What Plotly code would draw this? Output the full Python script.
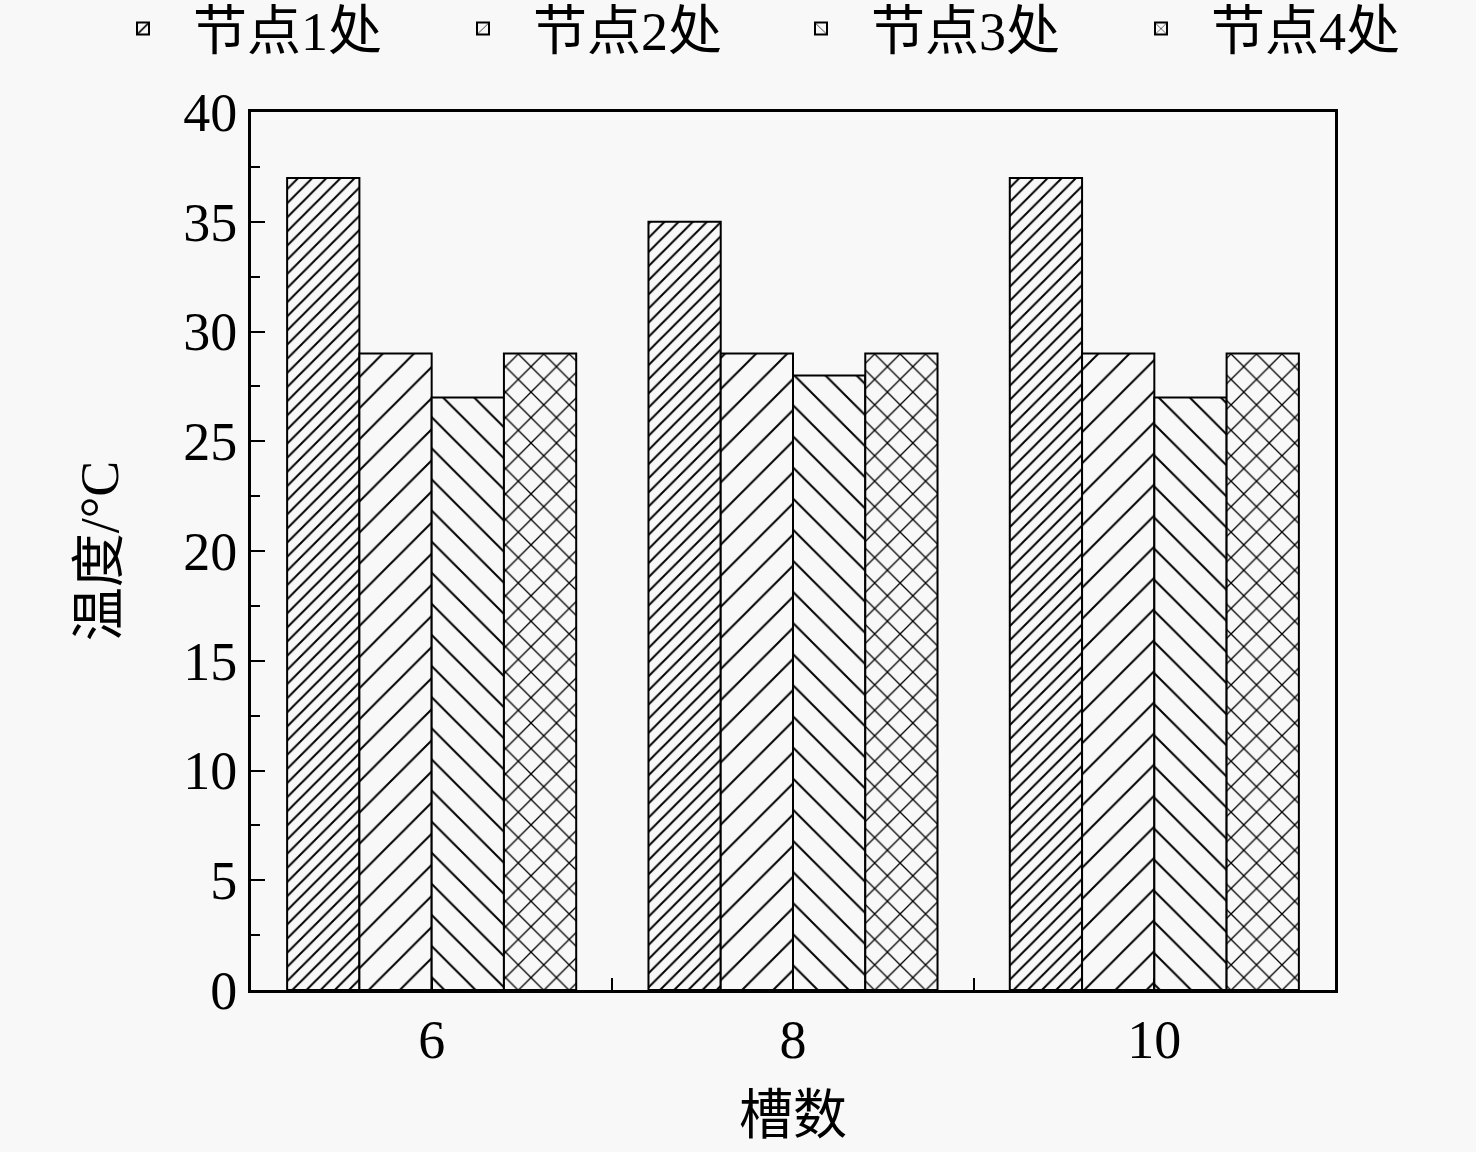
import plotly.graph_objects as go

categories = ["6", "8", "10"]
series_names = ["节点1处", "节点2处", "节点3处", "节点4处"]
node1 = [37, 35, 37]
node2 = [29, 29, 29]
node3 = [27, 28, 27]
node4 = [29, 29, 29]
y_ticks = [0, 5, 10, 15, 20, 25, 30, 35, 40]

series_values = [node1, node2, node3, node4]
patterns = [
    dict(shape="/", size=10, solidity=0.2),
    dict(shape="/", size=22, solidity=0.09),
    dict(shape="\\", size=22, solidity=0.09),
    dict(shape="x", size=18, solidity=0.14),
]
legend_x_px = [93, 433, 771, 1111]
legend_keys = ["legend", "legend2", "legend3", "legend4"]

BG = "#f8f8f8"
FONT = "Liberation Serif, Times New Roman, Noto Sans CJK SC"
W, H = 1476, 1152

xpos = list(range(len(categories)))
fig = go.Figure()
for name, vals, pat, lk in zip(series_names, series_values, patterns, legend_keys):
    fig.add_trace(go.Bar(
        x=xpos, y=vals, name=name, legend=lk,
        marker=dict(color=BG, line=dict(color="black", width=2),
                    pattern=dict(fgcolor="black", bgcolor=BG, fillmode="overlay",
                                 fgopacity=1, **pat)),
    ))

tickvals = []
ticktext = []
for i, c in enumerate(categories):
    tickvals.append(i)
    ticktext.append(c)
    if i < len(categories) - 1:
        tickvals.append(i + 0.5)
        ticktext.append("")

legend_layout = {}
for lk, lx in zip(legend_keys, legend_x_px):
    legend_layout[lk] = dict(
        orientation="h", x=lx / W, xanchor="left", y=1 - 29 / H, yanchor="middle",
        xref="container", yref="container", itemwidth=90,
        font=dict(size=54, family=FONT), bgcolor="rgba(0,0,0,0)",
    )

fig.update_layout(
    width=W, height=H,
    margin=dict(l=251, r=141, t=108, b=162),
    paper_bgcolor=BG, plot_bgcolor=BG,
    barmode="group", bargap=0.2, bargroupgap=0,
    font=dict(family=FONT, size=54, color="black"),
    showlegend=True,
    **legend_layout,
    xaxis=dict(
        range=[-0.5, 2.5], tickvals=tickvals, ticktext=ticktext,
        ticks="inside", ticklen=12, tickwidth=2, tickcolor="black",
        showline=True, linecolor="black", linewidth=3, mirror=True,
        showgrid=False, zeroline=False,
        tickfont=dict(size=54, family=FONT),
        title=dict(text="槽数", font=dict(size=54, family=FONT), standoff=28),
    ),
    yaxis=dict(
        range=[0, 40], tickvals=y_ticks,
        ticks="inside", ticklen=14, tickwidth=2, tickcolor="black",
        minor=dict(dtick=2.5, tick0=0, ticks="inside", ticklen=9, tickwidth=2, tickcolor="black", showgrid=False),
        showline=True, linecolor="black", linewidth=3, mirror=True,
        showgrid=False, zeroline=False,
        tickfont=dict(size=54, family=FONT),
        title=dict(text="温度/°C", font=dict(size=54, family=FONT), standoff=48),
    ),
)

fig.write_html("out.html", config={"displayModeBar": False},
               post_script="document.body.style.margin='0';")
